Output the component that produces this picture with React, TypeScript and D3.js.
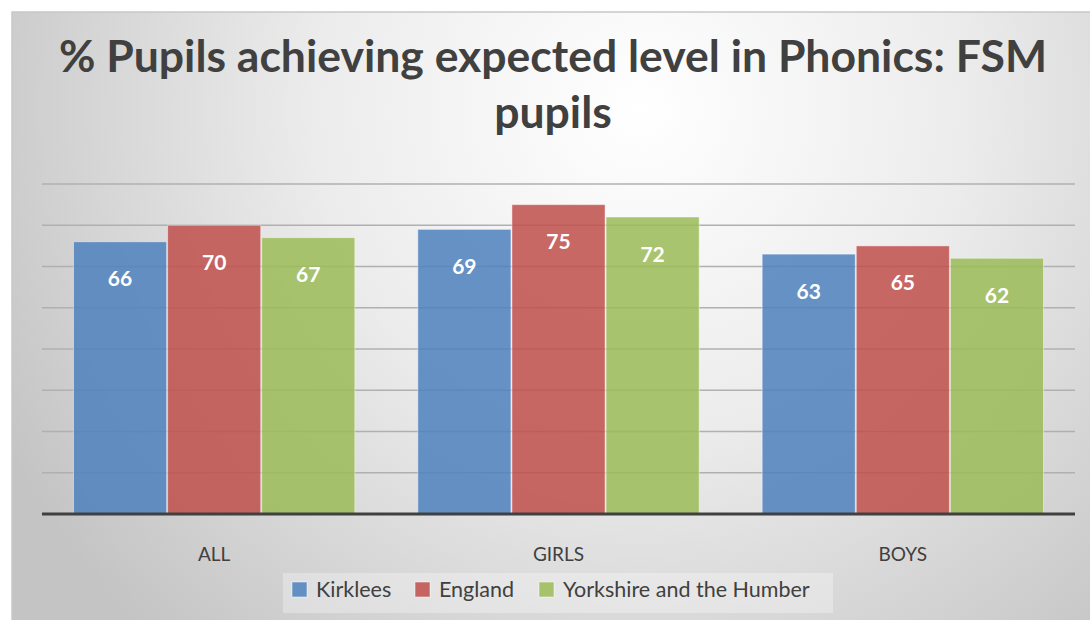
import React from "react";
import * as d3 from "d3";

const categories = ["ALL", "GIRLS", "BOYS"];
const seriesNames = ["Kirklees", "England", "Yorkshire and the Humber"];
const kirklees = [66, 69, 63];
const england = [70, 75, 65];
const yorkshire = [67, 72, 62];
const seriesValues = [kirklees, england, yorkshire];
const seriesColors = ["#4f81bd", "#c0504d", "#9bbb59"];
const titleLines = ["% Pupils achieving expected level in Phonics: FSM", "pupils"];
const yMax = 80;

const W = 1090;
const H = 620;
const plotLeft = 42;
const plotRight = 1075;
const plotTop = 184;
const plotBottom = 514;
const font = "Lato, 'Open Sans', sans-serif";
const textColor = "#404040";

export default function App() {
  const x0 = d3
    .scaleBand<string>()
    .domain(categories)
    .range([plotLeft, plotRight])
    .paddingInner(0.18)
    .paddingOuter(0.09);
  const x1 = d3
    .scaleBand<string>()
    .domain(seriesNames)
    .range([0, x0.bandwidth()])
    .padding(0);
  const y = d3.scaleLinear().domain([0, yMax]).range([plotBottom, plotTop]);
  const ticks = y.ticks(8).filter((t) => t > 0);

  const legendItemX = [292, 415, 539];
  const legendY = 582;

  return (
    <svg
      width={W}
      height={H}
      style={{ position: "absolute", left: 0, top: 0, background: "#fff" }}
    >
      <defs>
        <radialGradient
          id="bg"
          gradientUnits="userSpaceOnUse"
          cx={640}
          cy={110}
          r={720}
          fx={640}
          fy={110}
        >
          <stop offset="0" stopColor="#ffffff" />
          <stop offset="0.45" stopColor="#ececec" />
          <stop offset="1" stopColor="#c4c4c4" />
        </radialGradient>
      </defs>
      <rect x={12} y={12} width={W + 10} height={H + 10} fill="url(#bg)" stroke="#c8c8c8" strokeWidth={1.5} />

      {titleLines.map((line, i) => (
        <text
          key={i}
          x={553}
          y={72 + i * 56}
          textAnchor="middle"
          fontFamily={font}
          fontWeight={700}
          fontSize={44.5}
          fill={textColor}
        >
          {line}
        </text>
      ))}

      {ticks.map((t) => (
        <line
          key={t}
          x1={plotLeft}
          x2={plotRight}
          y1={y(t)}
          y2={y(t)}
          stroke="#b0b0b0"
          strokeWidth={1.4}
        />
      ))}

      {categories.map((c, ci) => (
        <g key={c} transform={`translate(${x0(c)},0)`}>
          {seriesNames.map((s, si) => {
            const v = seriesValues[si][ci];
            const bx = x1(s)!;
            return (
              <g key={s}>
                <rect
                  x={bx + 0.5}
                  y={y(v)}
                  width={x1.bandwidth() - 1}
                  height={y(0) - y(v)}
                  fill={seriesColors[si]}
                  fillOpacity={0.86}
                  stroke="#ffffff"
                  strokeOpacity={0.45}
                  strokeWidth={1}
                />
                <text
                  x={bx + x1.bandwidth() / 2}
                  y={y(v) + 36}
                  textAnchor="middle"
                  dominantBaseline="central"
                  fontFamily={font}
                  fontWeight={700}
                  fontSize={21}
                  fill="#ffffff"
                >
                  {v}
                </text>
              </g>
            );
          })}
          <text
            x={x0.bandwidth() / 2}
            y={553}
            textAnchor="middle"
            dominantBaseline="central"
            fontFamily={font}
            fontSize={19}
            fill={textColor}
          >
            {c}
          </text>
        </g>
      ))}

      <line x1={plotLeft} x2={plotRight} y1={y(0)} y2={y(0)} stroke="#404040" strokeWidth={3} />

      <rect x={283} y={573} width={550} height={40} fill="#ffffff" fillOpacity={0.3} />
      {seriesNames.map((s, i) => (
        <g key={s} transform={`translate(${legendItemX[i]},${legendY})`}>
          <rect x={0} y={0} width={15} height={15} fill={seriesColors[i]} fillOpacity={0.86} stroke="#ffffff" strokeOpacity={0.5} />
          <text x={24} y={15} fontFamily={font} fontSize={21.5} fill={textColor}>
            {s}
          </text>
        </g>
      ))}
    </svg>
  );
}
